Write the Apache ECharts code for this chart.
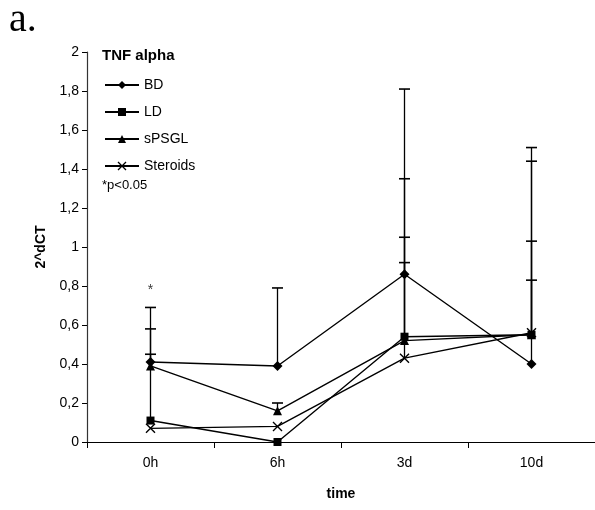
<!DOCTYPE html>
<html>
<head>
<meta charset="utf-8">
<script src="https://cdn.jsdelivr.net/npm/echarts@6/dist/echarts.min.js"></script>
<style>
  html, body { margin: 0; padding: 0; background: #fff; }
  #chart { width: 595px; height: 510px; }
</style>
</head>
<body>
<div id="chart"></div>
<script>
// 时间点
const times = ['0h', '6h', '3d', '10d'];

// 各组均值
const bdValues = [0.41, 0.39, 0.86, 0.40];
const ldValues = [0.11, 0.00, 0.54, 0.55];
const spsglValues = [0.39, 0.16, 0.52, 0.55];
const steroidValues = [0.07, 0.08, 0.43, 0.56];

// 误差线上端 (null = 无)
const bdTops = [0.69, 0.79, 1.81, 1.03];
const ldTops = [0.45, null, 1.35, 1.51];
const spsglTops = [0.58, 0.20, 1.05, 1.44];
const steroidTops = [null, null, 0.92, 0.83];

// 显著性标记
const starPoints = [['0h', 0.78]];

const yTicks = [0, 0.2, 0.4, 0.6, 0.8, 1, 1.2, 1.4, 1.6, 1.8, 2];

const crossPath = 'path://M0,0L10,10M10,0L0,10';
const font = 'Liberation Sans, Arial, sans-serif';

const groups = [
  {name: 'BD', values: bdValues, tops: bdTops, symbol: 'diamond', size: 10},
  {name: 'LD', values: ldValues, tops: ldTops, symbol: 'rect', size: 8},
  {name: 'sPSGL', values: spsglValues, tops: spsglTops, symbol: 'triangle', size: 9},
  {name: 'Steroids', values: steroidValues, tops: steroidTops, symbol: crossPath, size: 9}
];

const chart = echarts.init(document.getElementById('chart'));

const series = [];
groups.forEach(g => {
  // 误差线
  series.push({
    type: 'custom',
    name: g.name + ' err',
    silent: true,
    z: 1,
    data: times.map((t, i) => [i, g.values[i], g.tops[i]]).filter(d => d[2] !== null),
    renderItem(params, api) {
      const base = api.coord([api.value(0), api.value(1)]);
      const top = api.coord([api.value(0), api.value(2)]);
      const half = 5.5;
      return {
        type: 'group',
        children: [
          {type: 'line', shape: {x1: base[0], y1: base[1], x2: top[0], y2: top[1]},
            style: {stroke: '#000', lineWidth: 1.3}},
          {type: 'line', shape: {x1: top[0] - half, y1: top[1], x2: top[0] + half, y2: top[1]},
            style: {stroke: '#000', lineWidth: 1.6}}
        ]
      };
    }
  });
  // 均值折线
  series.push({
    type: 'line',
    name: g.name,
    data: g.values,
    symbol: g.symbol,
    symbolSize: g.size,
    z: 3,
    lineStyle: {color: '#000', width: 1.4},
    itemStyle: {color: '#000', borderColor: '#000', borderWidth: g.symbol === crossPath ? 1.4 : 0},
    emphasis: {disabled: true}
  });
});

series.push({
  type: 'scatter',
  name: 'star',
  symbolSize: 0,
  data: starPoints,
  label: {show: true, formatter: '*', position: 'inside', color: '#000', fontSize: 14, fontFamily: font}
});

const option = {
  backgroundColor: '#fff',
  animation: false,
  title: {
    text: 'TNF alpha',
    left: 97,
    top: 43,
    textStyle: {fontFamily: font, fontSize: 15, fontWeight: 'bold', color: '#000'}
  },
  legend: {
    orient: 'vertical',
    left: 99,
    top: 73,
    itemWidth: 34,
    itemHeight: 10,
    itemGap: 13,
    textStyle: {fontFamily: font, fontSize: 14, color: '#000'},
    data: groups.map(g => ({
      name: g.name,
      itemStyle: {borderColor: '#000', borderWidth: g.symbol === crossPath ? 1.3 : 0}
    }))
  },
  graphic: [
    {type: 'text', left: 9, top: 0,
      style: {text: 'a.', font: '40px "Liberation Serif", "Times New Roman", serif', fill: '#000'}},
    {type: 'text', left: 102, top: 179,
      style: {text: '*p<0.05', font: '13px ' + font, fill: '#000'}}
  ],
  grid: {left: 87, top: 52, width: 511, height: 390, containLabel: false},
  xAxis: {
    type: 'category',
    data: times,
    boundaryGap: true,
    name: 'time',
    nameLocation: 'middle',
    nameGap: 45,
    nameTextStyle: {fontFamily: font, fontSize: 14, fontWeight: 'bold', color: '#000'},
    axisLine: {lineStyle: {color: '#000', width: 1.2}},
    axisTick: {show: true, length: 6, lineStyle: {color: '#000'}},
    axisLabel: {fontFamily: font, fontSize: 14, color: '#000', margin: 14},
    splitLine: {show: false}
  },
  yAxis: {
    type: 'value',
    min: 0,
    max: 2,
    interval: 0.2,
    name: '2^dCT',
    nameLocation: 'middle',
    nameGap: 38,
    nameRotate: 90,
    nameTextStyle: {fontFamily: font, fontSize: 14, fontWeight: 'bold', color: '#000'},
    axisLine: {show: true, lineStyle: {color: '#333', width: 1.2}},
    axisTick: {show: true, length: 5, lineStyle: {color: '#000'}},
    axisLabel: {
      fontFamily: font, fontSize: 14, color: '#000', margin: 8,
      formatter: v => {
        const t = yTicks.find(x => Math.abs(x - v) < 1e-6);
        return String(t !== undefined ? t : v).replace('.', ',');
      }
    },
    splitLine: {show: false}
  },
  series: series
};

chart.setOption(option);
</script>
</body>
</html>
